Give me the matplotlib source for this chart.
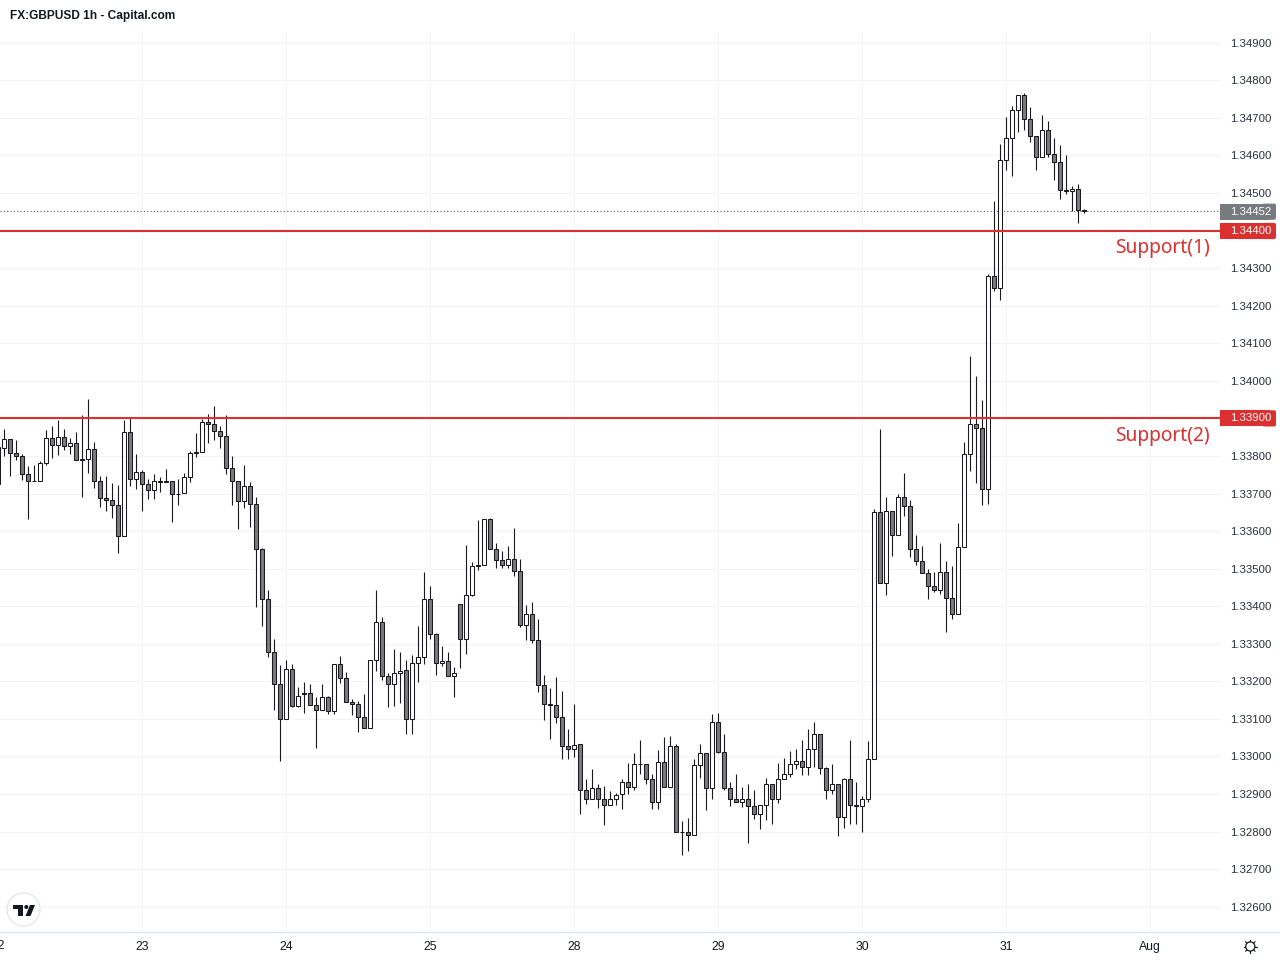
# GBPUSD 1h candles with two support levels

import math
import matplotlib
matplotlib.use('Agg')
import matplotlib.pyplot as plt
from matplotlib.patches import Circle, FancyBboxPatch, Polygon, Rectangle
from matplotlib.transforms import Affine2D, blended_transform_factory

opens = [
    1.33725, 1.33822, 1.33846, 1.33809, 1.33801, 1.33753, 1.33734, 1.33734, 1.33782, 1.33849,
    1.33830, 1.33851, 1.33827, 1.33835, 1.33793, 1.33793, 1.33819, 1.33734, 1.33689, 1.33684,
    1.33670, 1.33588, 1.33865, 1.33739, 1.33758, 1.33726, 1.33710, 1.33734, 1.33734, 1.33734,
    1.33699, 1.33702, 1.33745, 1.33811, 1.33811, 1.33891, 1.33886, 1.33867, 1.33854, 1.33769,
    1.33734, 1.33681, 1.33721, 1.33673, 1.33551, 1.33420, 1.33279, 1.33194, 1.33101, 1.33234,
    1.33135, 1.33165, 1.33170, 1.33138, 1.33125, 1.33157, 1.33122, 1.33245, 1.33210, 1.33144,
    1.33141, 1.33104, 1.33077, 1.33258, 1.33357, 1.33213, 1.33192, 1.33221, 1.33229, 1.33101,
    1.33250, 1.33266, 1.33418, 1.33325, 1.33250, 1.33255, 1.33213, 1.33407, 1.33314, 1.33431,
    1.33506, 1.33511, 1.33633, 1.33551, 1.33524, 1.33511, 1.33527, 1.33495, 1.33349, 1.33378,
    1.33309, 1.33189, 1.33141, 1.33136, 1.33106, 1.33027, 1.33021, 1.33032, 1.32912, 1.32886,
    1.32917, 1.32886, 1.32870, 1.32886, 1.32899, 1.32931, 1.32920, 1.32981, 1.32979, 1.32941,
    1.32878, 1.32984, 1.32920, 1.33027, 1.32800, 1.32798, 1.32792, 1.32976, 1.33008, 1.32915,
    1.33093, 1.33013, 1.32917, 1.32888, 1.32880, 1.32888, 1.32867, 1.32846, 1.32870, 1.32926,
    1.32886, 1.32941, 1.32952, 1.32979, 1.32989, 1.32973, 1.33021, 1.33061, 1.32968, 1.32912,
    1.32928, 1.32840, 1.32941, 1.32870, 1.32867, 1.32888, 1.32992, 1.33650, 1.33462, 1.33653,
    1.33589, 1.33690, 1.33666, 1.33552, 1.33520, 1.33489, 1.33454, 1.33443, 1.33491, 1.33422,
    1.33380, 1.33557, 1.33806, 1.33886, 1.33875, 1.33711, 1.34280, 1.34247, 1.34588, 1.34647,
    1.34721, 1.34761, 1.34697, 1.34652, 1.34596, 1.34668, 1.34604, 1.34583, 1.34508, 1.34506,
    1.34511, 1.34454,
]
highs = [
    1.33828, 1.33871, 1.33846, 1.33843, 1.33806, 1.33772, 1.33775, 1.33786, 1.33868, 1.33879,
    1.33895, 1.33871, 1.33849, 1.33863, 1.33908, 1.33951, 1.33836, 1.33746, 1.33746, 1.33727,
    1.33724, 1.33895, 1.33905, 1.33804, 1.33762, 1.33739, 1.33753, 1.33745, 1.33766, 1.33734,
    1.33739, 1.33755, 1.33814, 1.33860, 1.33899, 1.33913, 1.33932, 1.33881, 1.33908, 1.33799,
    1.33734, 1.33775, 1.33731, 1.33690, 1.33556, 1.33444, 1.33312, 1.33243, 1.33256, 1.33245,
    1.33184, 1.33198, 1.33192, 1.33158, 1.33192, 1.33161, 1.33245, 1.33267, 1.33226, 1.33153,
    1.33149, 1.33165, 1.33258, 1.33443, 1.33371, 1.33221, 1.33287, 1.33279, 1.33258, 1.33270,
    1.33347, 1.33491, 1.33453, 1.33330, 1.33294, 1.33278, 1.33237, 1.33407, 1.33562, 1.33517,
    1.33629, 1.33633, 1.33636, 1.33568, 1.33548, 1.33559, 1.33608, 1.33525, 1.33403, 1.33410,
    1.33365, 1.33216, 1.33182, 1.33211, 1.33173, 1.33073, 1.33141, 1.33034, 1.32940, 1.32966,
    1.32928, 1.32921, 1.32909, 1.32904, 1.32940, 1.32982, 1.33009, 1.33043, 1.32979, 1.32953,
    1.33017, 1.33051, 1.33054, 1.33032, 1.32828, 1.32836, 1.32992, 1.33032, 1.33008, 1.33113,
    1.33115, 1.33059, 1.32933, 1.32953, 1.32918, 1.32928, 1.32910, 1.32872, 1.32944, 1.32926,
    1.32982, 1.32996, 1.33014, 1.33019, 1.33043, 1.33073, 1.33091, 1.33061, 1.32971, 1.32979,
    1.32928, 1.32944, 1.33043, 1.32932, 1.32894, 1.33040, 1.33659, 1.33871, 1.33690, 1.33653,
    1.33700, 1.33754, 1.33683, 1.33590, 1.33561, 1.33500, 1.33491, 1.33569, 1.33521, 1.33507,
    1.33622, 1.33838, 1.34067, 1.34014, 1.33949, 1.34284, 1.34480, 1.34631, 1.34702, 1.34733,
    1.34761, 1.34766, 1.34730, 1.34652, 1.34708, 1.34693, 1.34647, 1.34628, 1.34600, 1.34518,
    1.34524, 1.34458,
]
lows = [
    1.33725, 1.33800, 1.33747, 1.33789, 1.33736, 1.33632, 1.33733, 1.33734, 1.33776, 1.33794,
    1.33802, 1.33816, 1.33805, 1.33790, 1.33691, 1.33754, 1.33715, 1.33664, 1.33653, 1.33635,
    1.33542, 1.33588, 1.33720, 1.33712, 1.33653, 1.33685, 1.33685, 1.33704, 1.33731, 1.33624,
    1.33669, 1.33702, 1.33731, 1.33797, 1.33811, 1.33834, 1.33842, 1.33821, 1.33752, 1.33669,
    1.33605, 1.33661, 1.33611, 1.33398, 1.33347, 1.33265, 1.33124, 1.32988, 1.33101, 1.33132,
    1.33132, 1.33115, 1.33138, 1.33023, 1.33125, 1.33114, 1.33114, 1.33196, 1.33144, 1.33111,
    1.33066, 1.33077, 1.33077, 1.33227, 1.33204, 1.33132, 1.33135, 1.33143, 1.33060, 1.33060,
    1.33199, 1.33246, 1.33313, 1.33217, 1.33241, 1.33213, 1.33159, 1.33236, 1.33273, 1.33426,
    1.33497, 1.33511, 1.33551, 1.33502, 1.33502, 1.33502, 1.33481, 1.33345, 1.33310, 1.33302,
    1.33172, 1.33098, 1.33047, 1.33090, 1.32994, 1.32994, 1.32999, 1.32847, 1.32873, 1.32886,
    1.32863, 1.32818, 1.32870, 1.32871, 1.32861, 1.32900, 1.32911, 1.32953, 1.32927, 1.32861,
    1.32861, 1.32920, 1.32920, 1.32800, 1.32738, 1.32749, 1.32792, 1.32942, 1.32858, 1.32887,
    1.33010, 1.32911, 1.32869, 1.32880, 1.32866, 1.32770, 1.32834, 1.32807, 1.32831, 1.32821,
    1.32877, 1.32941, 1.32946, 1.32966, 1.32950, 1.32950, 1.32971, 1.32954, 1.32886, 1.32899,
    1.32789, 1.32810, 1.32821, 1.32821, 1.32799, 1.32878, 1.32992, 1.33462, 1.33429, 1.33535,
    1.33589, 1.33641, 1.33530, 1.33511, 1.33489, 1.33419, 1.33437, 1.33432, 1.33331, 1.33366,
    1.33380, 1.33557, 1.33761, 1.33728, 1.33670, 1.33673, 1.34239, 1.34214, 1.34562, 1.34545,
    1.34662, 1.34667, 1.34636, 1.34561, 1.34596, 1.34595, 1.34536, 1.34483, 1.34497, 1.34451,
    1.34420, 1.34447,
]
closes = [
    1.33824, 1.33846, 1.33809, 1.33801, 1.33753, 1.33734, 1.33734, 1.33782, 1.33849, 1.33830,
    1.33851, 1.33827, 1.33835, 1.33790, 1.33790, 1.33819, 1.33734, 1.33689, 1.33684, 1.33670,
    1.33588, 1.33865, 1.33739, 1.33758, 1.33726, 1.33710, 1.33734, 1.33731, 1.33731, 1.33700,
    1.33700, 1.33745, 1.33809, 1.33809, 1.33891, 1.33886, 1.33867, 1.33854, 1.33769, 1.33734,
    1.33681, 1.33721, 1.33673, 1.33551, 1.33420, 1.33279, 1.33194, 1.33101, 1.33234, 1.33135,
    1.33162, 1.33170, 1.33138, 1.33125, 1.33157, 1.33122, 1.33245, 1.33210, 1.33144, 1.33141,
    1.33104, 1.33077, 1.33258, 1.33357, 1.33213, 1.33192, 1.33221, 1.33228, 1.33101, 1.33250,
    1.33266, 1.33418, 1.33325, 1.33250, 1.33255, 1.33213, 1.33221, 1.33314, 1.33431, 1.33506,
    1.33510, 1.33633, 1.33551, 1.33524, 1.33511, 1.33527, 1.33495, 1.33349, 1.33378, 1.33309,
    1.33189, 1.33141, 1.33136, 1.33106, 1.33027, 1.33021, 1.33031, 1.32912, 1.32886, 1.32917,
    1.32886, 1.32870, 1.32886, 1.32898, 1.32931, 1.32920, 1.32981, 1.32979, 1.32941, 1.32878,
    1.32984, 1.32920, 1.33027, 1.32800, 1.32798, 1.32792, 1.32976, 1.33008, 1.32915, 1.33093,
    1.33013, 1.32917, 1.32888, 1.32880, 1.32888, 1.32867, 1.32846, 1.32870, 1.32926, 1.32886,
    1.32941, 1.32952, 1.32979, 1.32989, 1.32973, 1.33021, 1.33061, 1.32968, 1.32912, 1.32928,
    1.32840, 1.32941, 1.32870, 1.32867, 1.32888, 1.32992, 1.33650, 1.33462, 1.33653, 1.33589,
    1.33690, 1.33666, 1.33552, 1.33520, 1.33489, 1.33454, 1.33443, 1.33491, 1.33422, 1.33380,
    1.33557, 1.33806, 1.33886, 1.33875, 1.33711, 1.34280, 1.34247, 1.34588, 1.34647, 1.34721,
    1.34761, 1.34697, 1.34652, 1.34596, 1.34668, 1.34604, 1.34583, 1.34508, 1.34506, 1.34511,
    1.34454, 1.34452,
]

price_ticks = [1.326, 1.327, 1.328, 1.329, 1.330, 1.331, 1.332, 1.333, 1.334, 1.335, 1.336, 1.337,
               1.338, 1.339, 1.340, 1.341, 1.342, 1.343, 1.344, 1.345, 1.346, 1.347, 1.348, 1.349]
price_labels = ['1.32600', '1.32700', '1.32800', '1.32900', '1.33000', '1.33100', '1.33200', '1.33300',
                '1.33400', '1.33500', '1.33600', '1.33700', '1.33800', '', '1.34000', '1.34100',
                '1.34200', '1.34300', '', '1.34500', '1.34600', '1.34700', '1.34800', '1.34900']
day_ticks = [24, 48, 72, 96, 120, 144, 168, 192]
day_labels = ['23', '24', '25', '28', '29', '30', '31', 'Aug']
supports = [1.34400, 1.33900]
support_labels = ['Support(1)', 'Support(2)']
last_price = 1.34452

DARK = '#1a1a1e'
RED = '#dc2f2f'
GREY = '#787b7d'
GRID = '#f3f4f6'
TEXT = '#131722'
TICK_FONT = 8.2


def draw_candles(ax):
    for i in range(len(opens)):
        ax.vlines(i, lows[i], highs[i], color=DARK, lw=0.8, zorder=3)
        bottom = min(opens[i], closes[i])
        height = abs(opens[i] - closes[i])
        face = 'white' if closes[i] >= opens[i] else '#7a7a7a'
        ax.bar(i, height, bottom=bottom, width=0.7, facecolor=face, edgecolor=DARK, linewidth=0.75, zorder=4)


def draw_levels(ax, label_tf):
    # last price, dotted
    ax.axhline(last_price, color='#555c66', lw=0.8, ls=(0, (1, 2)), zorder=2)
    for level, name in zip(supports, support_labels):
        ax.axhline(level, color=RED, lw=1.5, zorder=5)
        ax.text(0.9916, level - 0.00047, name, transform=label_tf, color=RED, fontsize=13.8,
                family='Noto Sans', ha='right', va='center', clip_on=False, zorder=6)


def draw_tags(fig):
    # price tags are placed in pixels from the top left of the picture
    px = Affine2D().scale(1, -1).translate(0, 960)
    for center, color, text in [(211.7, GREY, '1.34452'), (231, RED, '1.34400'), (418.4, RED, '1.33900')]:
        top = center - 8.1
        fig.patches.append(Rectangle((1220, top), 50, 16.2, transform=px, fc=color, ec='none', zorder=5))
        fig.patches.append(FancyBboxPatch((1262, top), 14, 16.2, boxstyle='round,pad=0,rounding_size=2',
                                          transform=px, fc=color, ec='none', zorder=5))
        fig.text(1230.5 / 1280, 1 - center / 960, text, color='white', fontsize=TICK_FONT,
                 family='Liberation Sans', va='center', ha='left', zorder=6)


def draw_logo(fig):
    px = Affine2D().scale(1, -1).translate(0, 960)
    fig.patches.append(Circle((23.5, 909.5), 16.5, transform=px, fc='white', ec='#e4e5e8', lw=0.9, zorder=5))
    fig.patches.append(Polygon([(13, 905), (22.5, 905), (22.5, 916), (18, 916), (18, 909), (13, 909)],
                               transform=px, fc='#131722', ec='none', zorder=6))
    fig.patches.append(Circle((26.3, 907), 2.0, transform=px, fc='#131722', ec='none', zorder=6))
    fig.patches.append(Polygon([(30, 905), (35, 905), (30.5, 916), (25.5, 916)],
                               transform=px, fc='#131722', ec='none', zorder=6))


def draw_settings_icon(fig):
    px = Affine2D().scale(1, -1).translate(0, 960)
    cx, cy = 1250.3, 946.5
    fig.patches.append(Circle((cx, cy), 4.6, transform=px, fc='white', ec='#131722', lw=0.9, zorder=6))
    for k in range(8):
        a = k * math.pi / 4
        tick = plt.Line2D([cx + 4.6 * math.cos(a), cx + 6.6 * math.cos(a)],
                          [cy + 4.6 * math.sin(a), cy + 6.6 * math.sin(a)],
                          transform=px, color='#131722', lw=0.8, zorder=6)
        fig.add_artist(tick)
        tick.set_transform(px)


def main():
    fig = plt.figure(figsize=(12.8, 9.6), dpi=100, facecolor='white')
    ax = fig.add_axes([0, 28 / 960, 1220 / 1280, 900 / 960])

    ax.set_xlim(0.283, 203.6)
    # half a pixel up from the last try
    ax.set_ylim(1.325327, 1.349287)

    ax.set_xticks(day_ticks)
    ax.set_xticklabels(day_labels, fontsize=8.8, family='Liberation Sans', color=TEXT)
    ax.set_yticks(price_ticks)
    ax.set_yticklabels(price_labels, fontsize=TICK_FONT, family='Liberation Sans', color='#2a2e39')
    ax.yaxis.tick_right()
    ax.tick_params(axis='both', length=0)
    ax.tick_params(axis='y', pad=7.5)
    ax.tick_params(axis='x', pad=6.2)
    ax.grid(True, color=GRID, lw=0.75, zorder=0)
    ax.set_axisbelow(True)

    for name in ['top', 'left', 'right', 'bottom']:
        ax.spines[name].set_visible(False)

    fig.add_artist(plt.Line2D([0, 1], [28 / 960, 28 / 960], color='#e0e3eb', lw=1.0))

    draw_candles(ax)
    label_tf = blended_transform_factory(ax.transAxes, ax.transData)
    draw_levels(ax, label_tf)
    draw_tags(fig)
    draw_logo(fig)
    draw_settings_icon(fig)

    # the first day label sits half outside the picture
    ax.text(0, -0.0155, '22', transform=blended_transform_factory(ax.transData, ax.transAxes),
            fontsize=8.8, family='Liberation Sans', color=TEXT, ha='center', va='center', clip_on=False)

    fig.text(10 / 1280, 1 - 15.5 / 960, 'FX:GBPUSD 1h - Capital.com', fontsize=8.55, fontweight='bold',
             family='Liberation Sans', color=TEXT, va='center', ha='left')

    fig.savefig('out.png', dpi=100)


if __name__ == '__main__':
    main()
